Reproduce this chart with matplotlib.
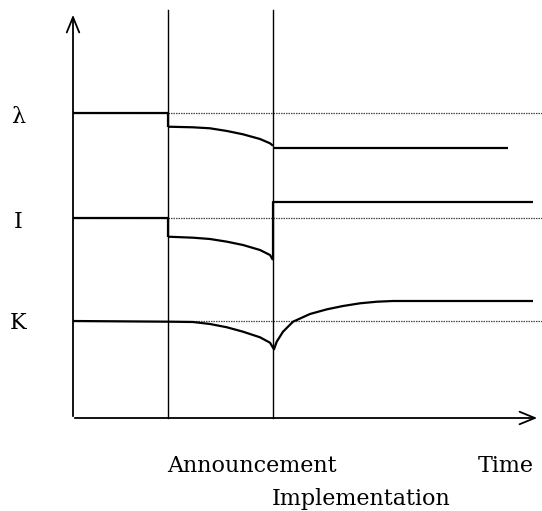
import matplotlib
matplotlib.use("Agg")
import matplotlib.pyplot as plt

# time axis: announcement and implementation dates
t_announce = 9.5
t_implement = 20.0
t_end = 46.0

# levels before the policy (lambda, I, K)
lam_0 = 30.5
inv_0 = 20.0
cap_0 = 9.7

# lambda path between announcement and implementation
lam_t1 = [9.5, 12.0, 13.7, 15.4, 17.0, 18.7, 19.7, 20.0]
lam_v1 = [29.13, 29.07, 28.97, 28.7, 28.37, 27.9, 27.47, 27.23]
lam_new = 27.0
lam_t_end = 43.5

# investment path between announcement and implementation
inv_t1 = [9.5, 12.0, 13.7, 15.4, 17.0, 18.7, 19.7, 20.0]
inv_v1 = [18.13, 18.03, 17.9, 17.63, 17.3, 16.8, 16.3, 15.8]
inv_new = 21.6

# capital path
cap_t = [0, 9.7, 12.0, 13.7, 15.4, 17.0, 18.7, 19.7, 20.1,
         20.37, 21.0, 22.0, 23.7, 25.4, 27.0, 28.7, 30.4, 32.0, 33.7, 46.0]
cap_v = [9.7, 9.63, 9.6, 9.4, 9.07, 8.63, 8.07, 7.53, 6.87,
         7.63, 8.63, 9.63, 10.4, 10.87, 11.2, 11.47, 11.63, 11.7, 11.7, 11.7]

fig = plt.figure(figsize=(5.42, 5.11), dpi=100)
ax = fig.add_axes([0, 0, 1, 1])
ax.set_xlim(-7.3, 46.9)
ax.set_ylim(-9.3, 41.8)
ax.axis("off")

ref = dict(color="#444444", lw=0.9, ls=(0, (1.2, 0.8)))
for lvl in [lam_0, inv_0, cap_0]:
    ax.plot([0, 46.9], [lvl, lvl], **ref)

for tv in [t_announce, t_implement]:
    ax.plot([tv, tv], [0, 40.8], color="black", lw=1.0)

sol = dict(color="black", lw=1.6, solid_capstyle="butt", solid_joinstyle="round")
# lambda
ax.plot([0, t_announce, t_announce], [lam_0, lam_0, lam_v1[0]], **sol)
ax.plot(lam_t1, lam_v1, **sol)
ax.plot([t_implement, lam_t_end], [lam_new, lam_new], **sol)
# investment
ax.plot([0, t_announce, t_announce], [inv_0, inv_0, inv_v1[0]], **sol)
ax.plot(inv_t1, inv_v1, **sol)
ax.plot([t_implement, t_implement, t_end], [inv_v1[-1], inv_new, inv_new], **sol)
# capital
ax.plot(cap_t, cap_v, **sol)

# axes arrows
arr = dict(arrowstyle="->,head_length=1.1,head_width=0.45", color="black", lw=1.3)
ax.annotate("", xy=(0, 40.6), xytext=(0, -0.1), arrowprops=arr)
ax.annotate("", xy=(46.7, 0), xytext=(-0.1, 0), arrowprops=arr)

fnt = dict(family="DejaVu Serif", fontsize=16)
ax.text(-5.5, 29.5, "λ", ha="center", va="baseline", **fnt)
ax.text(-5.5, 19.0, "I", ha="center", va="baseline", **fnt)
ax.text(-5.5, 8.9, "K", ha="center", va="baseline", **fnt)
ax.text(17.9, -5.4, "Announcement", ha="center", va="baseline", **fnt)
ax.text(43.3, -5.4, "Time", ha="center", va="baseline", **fnt)
ax.text(28.8, -8.7, "Implementation", ha="center", va="baseline", **fnt)

fig.savefig("out.png", dpi=100)
